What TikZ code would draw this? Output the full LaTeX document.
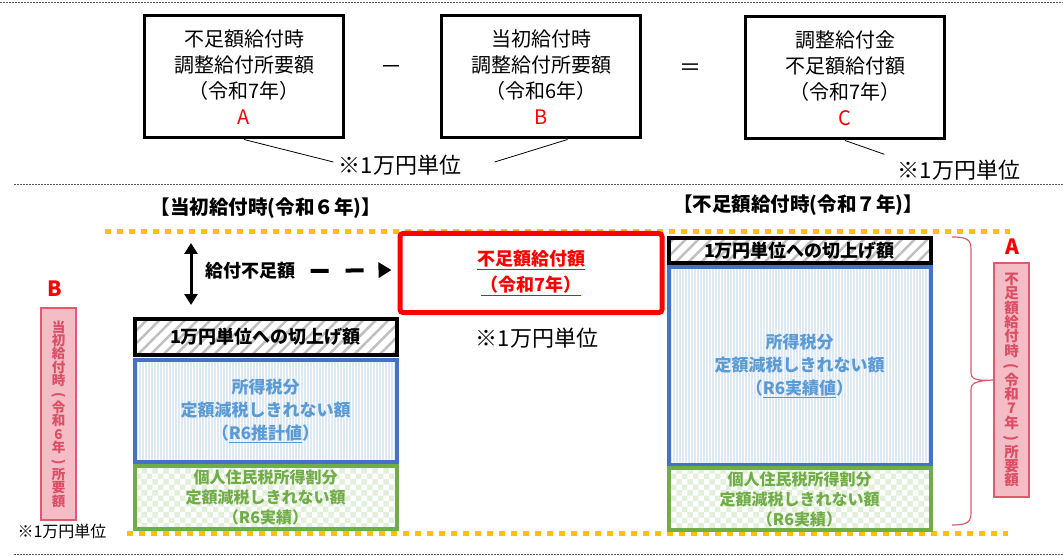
\documentclass[tikz,border=0pt]{standalone}
\usepackage{graphicx}
\usepackage{fontspec}
\setmainfont{Noto Sans CJK JP}
\usetikzlibrary{calc,arrows.meta,patterns,patterns.meta}

\definecolor{kred}{HTML}{FF0000}
\definecolor{gold}{HTML}{FFC000}
\definecolor{pinkline}{HTML}{E05A6E}
\definecolor{pinktext}{HTML}{DC4E66}
\definecolor{pinkfill}{HTML}{F4BCC5}
\definecolor{blueline}{HTML}{4472C4}
\definecolor{bluetext}{HTML}{5B9BD5}
\definecolor{bluefill}{HTML}{DDEAF6}
\definecolor{greenline}{HTML}{70AD47}
\definecolor{greenfill}{HTML}{E2EFDA}
\definecolor{hatchgray}{HTML}{BFBFBF}

\newcommand\fs[2]{\fontsize{#1}{#2}\selectfont}
\newcommand\tatefont[2]{\bfseries\fontsize{#1}{#2}\selectfont\setlength{\lineskiplimit}{-100pt}}
\newcommand\lpar{\rotatebox[origin=c]{-90}{(}}
\newcommand\rpar{\rotatebox[origin=c]{-90}{)}}

\tikzset{
  sepline/.style={gray!70!black,line width=.8pt,dash pattern=on 2pt off 1pt},
  goldline/.style={gold,line width=5pt,dash pattern=on 6pt off 6pt},
  reqbox/.style={draw=black,line width=3pt,minimum width=199pt,minimum height=122pt,
    align=center,font=\fs{20}{26}},
  opsign/.style={font=\fs{22}{24}},
  note/.style={font=\fs{22}{24}},
  heading/.style={font=\bfseries\fs{19.5}{22}},
  label/.style={text=kred,font=\bfseries\fs{21}{22}},
  cutbox/.style={draw=black,line width=4pt,minimum width=262pt,
    pattern={Lines[angle=45,distance=9pt,line width=2.5pt]},pattern color=hatchgray,
    font=\bfseries\fs{18}{20}},
  taxbox/.style={draw=blueline,line width=4pt,minimum width=262pt,align=center,
    preaction={fill=bluefill},
    pattern={Lines[angle=90,distance=3pt,line width=1pt]},pattern color=white,
    text=bluetext,font=\bfseries\fs{17}{23}},
  resbox/.style={draw=greenline,line width=4pt,minimum width=262pt,align=center,
    pattern=checkerboard,pattern color=greenfill,
    text=greenline,font=\bfseries\fs{16}{20}},
  tatebox/.style={draw=pinkline,fill=pinkfill,line width=2pt,minimum width=35pt,
    align=center,inner sep=0pt,text=pinktext},
  gaparrow/.style={line width=4pt,dash pattern=on 18pt off 17pt,
    -{Triangle[length=13pt,width=15pt]}},
  dblarrow/.style={line width=3pt,{Triangle[length=11pt,width=13pt]}-{Triangle[length=11pt,width=13pt]}}
}

\begin{document}
\begin{tikzpicture}[x=1pt,y=-1pt]
  \useasboundingbox (0,0) rectangle (1063,556);
  \draw[sepline] (0,2) -- (1063,2);
  \draw[sepline] (14,184) -- (1063,184);
  \draw[sepline] (14,554) -- (1063,554);

  % formula
  \node[reqbox] (reqA) at (244,77) {不足額給付時\\調整給付所要額\\（令和7年）\\\textcolor{kred}{A}};
  \node[reqbox] (reqB) at (541,77) {当初給付時\\調整給付所要額\\（令和6年）\\\textcolor{kred}{B}};
  \node[reqbox] (payC) at (845,78) {調整給付金\\不足額給付額\\（令和7年）\\\textcolor{kred}{C}};
  \node[opsign] (minus) at (391,70) {－};
  \node[opsign] (equal) at (690,70) {＝};
  \node[note] (noteAB) at (400,165) {※1万円単位};
  \node[note] (noteC) at (959,170) {※1万円単位};
  \draw[line width=.8pt] (reqA.south) -- ($(noteAB.west)+(-2,-3)$);
  \draw[line width=.8pt] (reqB.-67) -- ($(noteAB.east)+(30,-3)$);
  \draw[line width=.8pt] (payC.south) -- ($(noteC.north west)+(-10,-2)$);

  % headings
  \node[heading] (hdOld) at (266,208) {【当初給付時(令和６年)】};
  \node[heading] (hdNew) at (798,205) {【不足額給付時(令和７年)】};
  \draw[goldline] (105,232) -- (1010,232);
  \draw[goldline] (127,533) -- (1008,533);

  % R6
  \node[cutbox,minimum height=36pt] (cutOld) at (265.5,337) {1万円単位への切上げ額};
  \node[taxbox,minimum height=102pt] (taxOld) at (265.5,411)
    {所得税分\\定額減税しきれない額\\（\underline{R6推計値}）};
  \node[resbox,minimum height=61pt] (resOld) at (265.5,497.5)
    {個人住民税所得割分\\定額減税しきれない額\\（R6実績）};

  % R7
  \node[cutbox,minimum height=23pt] (cutNew) at (799.5,250.5) {1万円単位への切上げ額};
  \node[taxbox,minimum height=198pt] (taxNew) at (799.5,366)
    {所得税分\\定額減税しきれない額\\（\underline{R6実績値}）};
  \node[resbox,minimum height=58pt] (resNew) at (799.5,499)
    {個人住民税所得割分\\定額減税しきれない額\\（R6実績）};

  % shortfall
  \coordinate (gapTop) at (191,243);
  \coordinate (gapBot) at (191,305);
  \draw[dblarrow] (gapTop) -- (gapBot);
  \node[font=\bfseries\fs{18}{20}] (shortfall) at (250,271) {給付不足額};
  \node[draw=kred,line width=5pt,rounded corners=3pt,minimum width=262pt,minimum height=79pt,
    align=center,text=kred,font=\bfseries\fs{18}{26}] (redbox) at (531,273)
    {\underline{不足額給付額}\\\underline{（令和7年）}};
  \draw[gaparrow] ($(shortfall.east)+(12,0)$) -- ($(redbox.west)+(-6,-3)$);
  \node[note] (noteMid) at (537,338) {※1万円単位};

  % totals
  \node[label] (labB) at (55,289) {B};
  \node[tatebox,minimum height=212pt,font=\tatefont{13.5}{13.4}] (totOld) at (58.5,414)
    {当\\初\\給\\付\\時\\\lpar\\令\\和\\6\\年\\\rpar\\所\\要\\額};
  \node[label] (labA) at (1012,247) {A};
  \node[tatebox,minimum height=234pt,font=\tatefont{14.5}{14.4}] (totNew) at (1011.5,380)
    {不\\足\\額\\給\\付\\時\\\lpar\\令\\和\\7\\年\\\rpar\\所\\要\\額};
  \draw[pinkline,line width=1.2pt] (952,237) .. controls (968,237) and (971,240) .. (971,250)
    -- (971,372) .. controls (971,379) and (975,381) .. (totNew.west)
    .. controls (975,381) and (971,383) .. (971,390)
    -- (971,512) .. controls (971,522) and (968,525) .. (952,525);
  \node[font=\fs{16}{18}] (noteLow) at (62,531) {※1万円単位};
\end{tikzpicture}
\end{document}
